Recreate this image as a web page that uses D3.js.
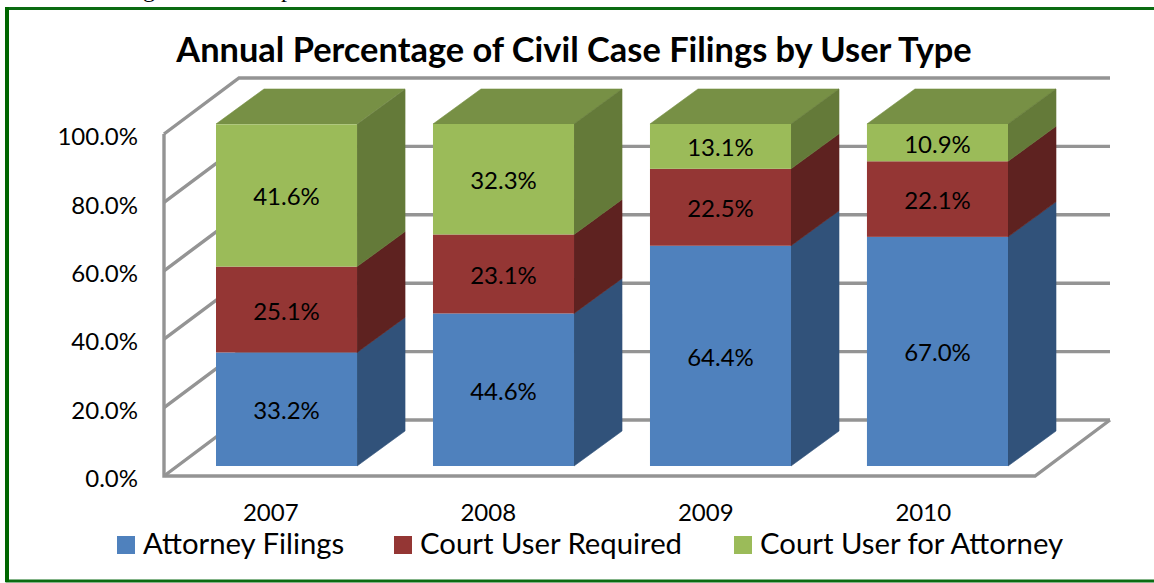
<!DOCTYPE html>
<html>
<head>
<meta charset="utf-8">
<script src="https://cdnjs.cloudflare.com/ajax/libs/d3/7.8.5/d3.min.js"></script>
<style>
  html, body { margin: 0; padding: 0; background: #fff; }
  svg { display: block; }
  text { font-family: Lato, "Noto Sans", sans-serif; fill: #000; }
  .axis path, .axis line { display: none; }
  .axis text { font-family: Lato, "Noto Sans", sans-serif; font-size: 24px; }
</style>
</head>
<body>
<svg id="chart" width="1154" height="583"></svg>
<script>
var years = ["2007", "2008", "2009", "2010"];
var seriesNames = ["Attorney Filings", "Court User Required", "Court User for Attorney"];
var attorney = [33.2, 44.6, 64.4, 67.0];
var required = [25.1, 23.1, 22.5, 22.1];
var forAttorney = [41.6, 32.3, 13.1, 10.9];
var yTicks = [0, 20, 40, 60, 80, 100];

var front = ["#4f81bd", "#943634", "#9bbb59"];
var side = ["#31527a", "#5e2220", "#647a39"];
var topColor = "#779045";
var gridColor = "#949494";

var svg = d3.select("#chart");

// wall depth and bar depth of the fake 3d
var wallDx = 75, wallDy = -56;
var barDx = 48, barDy = -35;
var wallLeft = 164, wallRight = 1035;

var yWall = d3.scaleLinear().domain([0, 100]).range([476, 134]);
var yBar = d3.scaleLinear().domain([0, 100]).range([466, 124]);
var x = d3.scaleBand().domain(years).range([216, 1008]).paddingInner(0.35);
var xLabel = d3.scaleBand().domain(years).range([162, 1032]);

var soft = svg.append("defs").append("filter").attr("id", "soft");
soft.append("feGaussianBlur").attr("stdDeviation", 0.5);

// text cut off by the top of the picture
svg.append("text").attr("x", 143).attr("y", -3).style("font-family", "Liberation Serif").style("font-size", "24px").text("g");
svg.append("text").attr("x", 281).attr("y", -3).style("font-family", "Liberation Serif").style("font-size", "24px").text("p");

// page frame
svg.append("path")
    .attr("d", "M1154,8.5H7V581H1154")
    .attr("fill", "none")
    .attr("stroke", "#0b6b12")
    .attr("stroke-width", 3);
svg.append("rect").attr("x", 5).attr("y", 7).attr("width", 4).attr("height", 575).attr("fill", "#006600");

svg.append("text")
    .attr("x", 574)
    .attr("y", 62)
    .attr("text-anchor", "middle")
    .style("font-size", "34.4px")
    .style("font-weight", "bold")
    .text("Annual Percentage of Civil Case Filings by User Type");

// walls
var walls = svg.append("g").attr("filter", "url(#soft)")
    .attr("fill", "none").attr("stroke", gridColor).attr("stroke-width", 3.4);

walls.selectAll(".back")
    .data(yTicks)
    .enter().append("path")
    .attr("class", "back")
    .attr("d", function(d) {
      return "M" + wallLeft + "," + yWall(d) + "l" + wallDx + "," + wallDy + "H" + (wallRight + wallDx);
    });

walls.append("path").attr("d", "M" + wallLeft + "," + yWall(100) + "V" + yWall(0) + "H" + wallRight + "l" + wallDx + "," + wallDy);

var stackData = years.map(function(year, i) {
  var base = 0;
  return [attorney[i], required[i], forAttorney[i]].map(function(v, s) {
    var seg = { year: year, series: s, start: base, end: base + v, value: v };
    base += v;
    return seg;
  });
});

var bars = svg.selectAll(".stack")
    .data(stackData)
    .enter().append("g")
    .attr("class", "stack");

var segs = bars.selectAll(".seg")
    .data(function(d) { return d; })
    .enter().append("g")
    .attr("class", "seg");

segs.append("path")
    .attr("fill", function(d) { return side[d.series]; })
    .attr("stroke", function(d) { return side[d.series]; })
    .attr("stroke-width", 0.6)
    .attr("d", function(d) {
      var r = x(d.year) + x.bandwidth();
      return "M" + r + "," + yBar(d.start) + "l" + barDx + "," + barDy +
        "V" + (yBar(d.end) + barDy) + "l" + (-barDx) + "," + (-barDy) + "Z";
    });

bars.append("path")
    .attr("fill", topColor)
    .attr("stroke", topColor)
    .attr("stroke-width", 0.6)
    .attr("d", function(d) {
      var l = x(d[0].year), t = yBar(100);
      return "M" + l + "," + t + "l" + barDx + "," + barDy + "h" + x.bandwidth() +
        "l" + (-barDx) + "," + (-barDy) + "Z";
    });

// side faces go over the top face
bars.each(function() {
  d3.select(this).selectAll(".seg").raise();
});

segs.append("rect")
    .attr("x", function(d) { return x(d.year); })
    .attr("y", function(d) { return yBar(d.end); })
    .attr("width", x.bandwidth())
    .attr("height", function(d) { return yBar(d.start) - yBar(d.end); })
    .attr("fill", function(d) { return front[d.series]; });

segs.append("text")
    .attr("x", function(d) { return x(d.year) + x.bandwidth() / 2; })
    .attr("y", function(d) { return (yBar(d.start) + yBar(d.end)) / 2 + 10; })
    .attr("text-anchor", "middle")
    .style("font-size", "24px")
    .text(function(d) { return d.value.toFixed(1) + "%"; });

// axes
svg.append("g")
    .attr("class", "axis")
    .attr("transform", "translate(138,3)")
    .call(d3.axisLeft(yWall).tickValues(yTicks).tickSize(0).tickPadding(0)
      .tickFormat(function(d) { return d.toFixed(1) + "%"; }));

svg.append("g")
    .attr("class", "axis")
    .attr("transform", "translate(0,504)")
    .call(d3.axisBottom(xLabel).tickSize(0).tickPadding(0));

// legend
var legendX = [117, 394, 734];
var legend = svg.selectAll(".legend")
    .data(seriesNames)
    .enter().append("g")
    .attr("class", "legend")
    .attr("transform", function(d, i) { return "translate(" + legendX[i] + ",536)"; });

legend.append("rect").attr("width", 18).attr("height", 18).attr("fill", function(d, i) { return front[i]; });
legend.append("text").attr("x", 26).attr("y", 18).style("font-size", "29.3px").text(function(d) { return d; });
</script>
</body>
</html>
